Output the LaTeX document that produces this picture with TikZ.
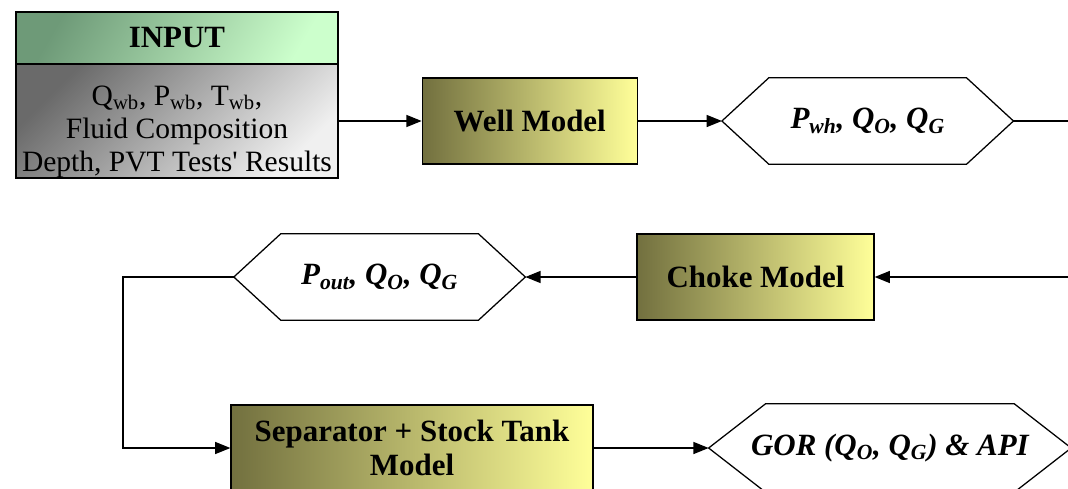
\documentclass[tikz,border=0pt]{standalone}
\usepackage{fontspec}
\setmainfont{Liberation Serif}
\usepackage{xcolor}
\usepackage{tikz}
\usetikzlibrary{positioning,arrows.meta}

\definecolor{headgreen}{HTML}{6E9A78}
\definecolor{palegreen}{HTML}{CCFFCC}
\definecolor{inkgray}{HTML}{6A6A6A}
\definecolor{palegray}{HTML}{F0F0F0}
\definecolor{olivedark}{HTML}{72703F}
\definecolor{olivemid}{HTML}{D6D37E}
\definecolor{paleyellow}{HTML}{FFFF99}

% outline of a hexagon round a node: #1 node, #2 slant
\newcommand{\hexoutline}[2]{%
	\draw[line width=0.9pt] (#1.west) -- ([xshift=#2]#1.north west) -- ([xshift=-#2]#1.north east)
		-- (#1.east) -- ([xshift=-#2]#1.south east) -- ([xshift=#2]#1.south west) -- cycle;}

\begin{document}
\begin{tikzpicture}[font=\fontsize{22}{26}\selectfont,
		box/.style={draw, line width=0.9pt, minimum height=2.15cm, align=center, inner sep=0pt},
		model/.style={box, font=\fontsize{22}{24}\selectfont\bfseries, left color=olivedark, middle color=olivemid, right color=paleyellow},
		hexa/.style={minimum height=2.15cm, inner sep=0pt, font=\fontsize{22}{26}\selectfont\bfseries\itshape},
		flow/.style={line width=0.9pt, -{Triangle[length=0.38cm, width=0.3cm]}}]
		\useasboundingbox (0,0) rectangle (26.7,-12.2);
		\clip (0,0) rectangle (26.7,-12.2);

		% input block
		\node[box, minimum width=8.05cm, minimum height=1.3cm, font=\fontsize{22}{26}\selectfont\bfseries,
			top color=headgreen, bottom color=palegreen, shading angle=60] (head) at (4.425,-0.95) {INPUT};
		\node[box, minimum width=8.05cm, minimum height=2.85cm, font=\fontsize{21}{23.6}\selectfont,
			top color=inkgray, bottom color=palegray, shading angle=45] (inlist) at (4.425,-3.025)
			{\rule{0pt}{3ex}Q\textsubscript{wb}, P\textsubscript{wb}, T\textsubscript{wb},\\Fluid Composition\\Depth, PVT Tests\textquotesingle\ Results};

		% first row
		\node[model, minimum width=5.375cm, right=2.075cm of inlist] (well) {Well Model};
		\node[hexa, minimum width=7.275cm, right=2.1cm of well] (pwh) {P\textsubscript{wh}, Q\textsubscript{O}, Q\textsubscript{G}};
		\hexoutline{pwh}{1.175cm}
		\coordinate (rimtop) at (27,-3.025);

		% second row
		\node[model, minimum width=5.925cm] (choke) at (18.8875,-6.925) {Choke Model};
		\node[hexa, minimum width=7.275cm, left=2.775cm of choke] (pout) {P\textsubscript{out}, Q\textsubscript{O}, Q\textsubscript{G}};
		\hexoutline{pout}{1.175cm}
		\coordinate (rimmid) at (27,-6.925);
		\coordinate (bend) at (3.075,-6.925);

		% third row
		\node[model, minimum width=9.05cm] (sep) at (10.3,-11.2) {Separator + Stock Tank\\Model};
		\node[hexa, minimum width=9.05cm, minimum height=2.2cm, right=2.875cm of sep] (gor) {GOR (Q\textsubscript{O}, Q\textsubscript{G}) \& API};
		\hexoutline{gor}{1.425cm}

		\draw[flow] (inlist) -- (well);
		\draw[flow] (well) -- (pwh.west);
		\draw[line width=0.9pt] (pwh.east) -- (rimtop);
		\draw[flow] (rimmid) -- (choke);
		\draw[flow] (choke) -- (pout.east);
		\draw[flow] (pout.west) -- (bend) |- (sep.west);
		\draw[flow] (sep) -- (gor.west);
	\end{tikzpicture}
\end{document}
